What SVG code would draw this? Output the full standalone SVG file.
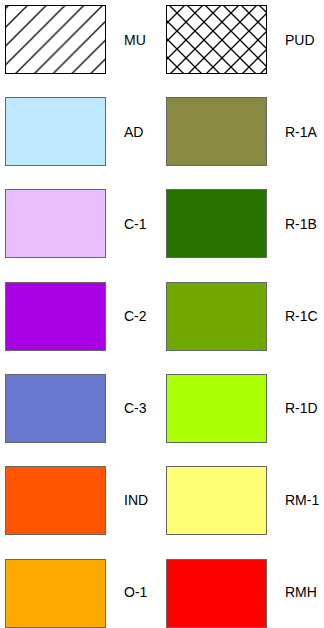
<svg xmlns="http://www.w3.org/2000/svg" width="324" height="628" viewBox="0 0 324 628">
  <style>
    .sw { stroke: #666666; stroke-width: 1; }
    .pat { stroke: #000000; stroke-width: 1; }
    .lbl { font-family: "Liberation Sans", Arial, sans-serif; font-size: 14px; fill: #000000; }
  </style>
  <defs>
    <pattern id="hatch" patternUnits="userSpaceOnUse" width="18.8" height="18.8" patternTransform="translate(14,0)">
      <path d="M-1,19.8 L19.8,-1 M-1,1 L1,-1 M17.8,19.8 L19.8,17.8" stroke="#000" stroke-width="1.3" fill="none"/>
    </pattern>
    <pattern id="cross" patternUnits="userSpaceOnUse" width="18" height="18" patternTransform="translate(6,4)">
      <path d="M-1,19 L19,-1 M-1,1 L1,-1 M17,19 L19,17 M-1,-1 L19,19 M17,-1 L19,1 M-1,17 L1,19" stroke="#000" stroke-width="1.3" fill="none"/>
    </pattern>
  </defs>
  <rect x="0" y="0" width="324" height="628" fill="#ffffff"/>

  <g id="node-MU">
    <rect class="pat" x="5.5" y="5.5" width="100" height="68" fill="url(#hatch)"/>
    <text class="lbl" x="124" y="45">MU</text>
  </g>
  <g id="node-PUD">
    <rect class="pat" x="166.5" y="5.5" width="100" height="68" fill="url(#cross)"/>
    <text class="lbl" x="285" y="45">PUD</text>
  </g>

  <g id="node-AD">
    <rect class="sw" x="5.5" y="97.5" width="100" height="68" fill="#BEE8FF"/>
    <text class="lbl" x="124" y="137">AD</text>
  </g>
  <g id="node-R-1A">
    <rect class="sw" x="166.5" y="97.5" width="100" height="68" fill="#898944"/>
    <text class="lbl" x="285" y="137">R-1A</text>
  </g>

  <g id="node-C-1">
    <rect class="sw" x="5.5" y="189.5" width="100" height="68" fill="#E8BEFF"/>
    <text class="lbl" x="124" y="229">C-1</text>
  </g>
  <g id="node-R-1B">
    <rect class="sw" x="166.5" y="189.5" width="100" height="68" fill="#267300"/>
    <text class="lbl" x="285" y="229">R-1B</text>
  </g>

  <g id="node-C-2">
    <rect class="sw" x="5.5" y="282.5" width="100" height="68" fill="#A900E6"/>
    <text class="lbl" x="124" y="321">C-2</text>
  </g>
  <g id="node-R-1C">
    <rect class="sw" x="166.5" y="282.5" width="100" height="68" fill="#70A800"/>
    <text class="lbl" x="285" y="321">R-1C</text>
  </g>

  <g id="node-C-3">
    <rect class="sw" x="5.5" y="374.5" width="100" height="68" fill="#6677CD"/>
    <text class="lbl" x="124" y="413">C-3</text>
  </g>
  <g id="node-R-1D">
    <rect class="sw" x="166.5" y="374.5" width="100" height="68" fill="#AAFF00"/>
    <text class="lbl" x="285" y="413">R-1D</text>
  </g>

  <g id="node-IND">
    <rect class="sw" x="5.5" y="466.5" width="100" height="68" fill="#FF5500"/>
    <text class="lbl" x="124" y="505">IND</text>
  </g>
  <g id="node-RM-1">
    <rect class="sw" x="166.5" y="466.5" width="100" height="68" fill="#FFFF73"/>
    <text class="lbl" x="285" y="505">RM-1</text>
  </g>

  <g id="node-O-1">
    <rect class="sw" x="5.5" y="559.5" width="100" height="68" fill="#FFAA00"/>
    <text class="lbl" x="124" y="597">O-1</text>
  </g>
  <g id="node-RMH">
    <rect class="sw" x="166.5" y="559.5" width="100" height="68" fill="#FF0000"/>
    <text class="lbl" x="285" y="597">RMH</text>
  </g>
</svg>
